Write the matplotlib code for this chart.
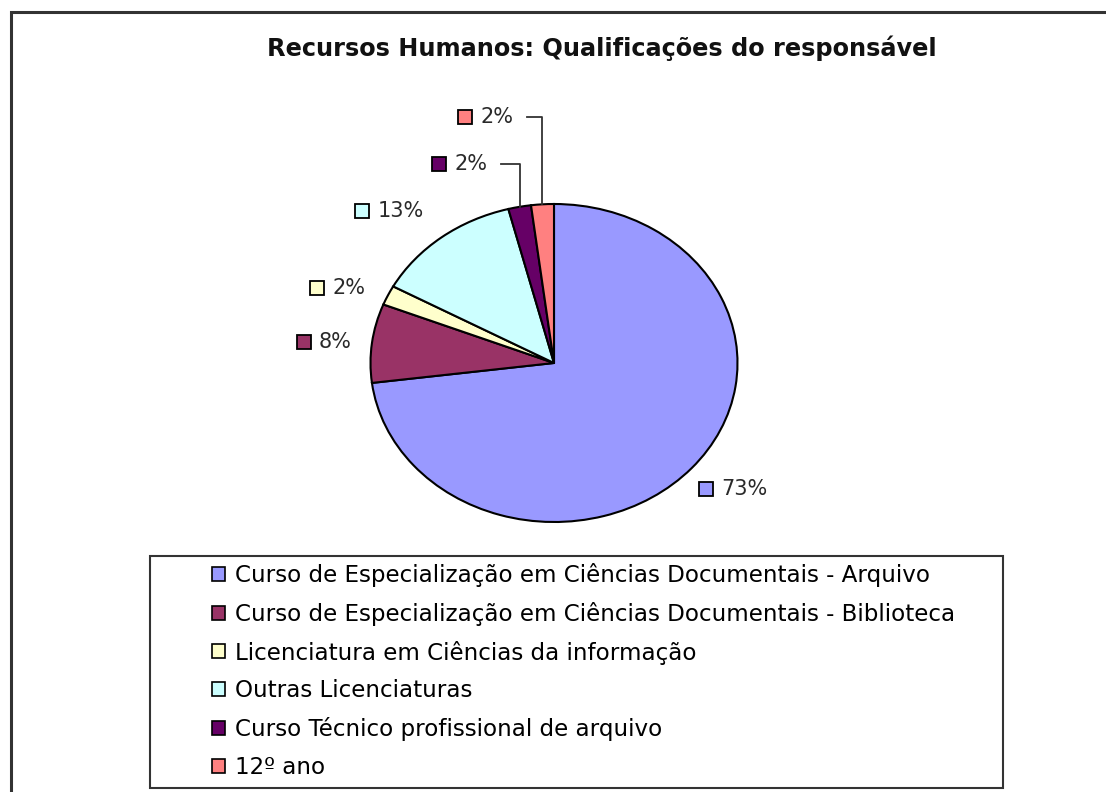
import numpy as np
import matplotlib
matplotlib.use("Agg")
import matplotlib.pyplot as plt
from matplotlib.patches import Rectangle, Patch

plt.rcParams['font.family'] = ['DejaVu Sans']

# data
categories = ["Curso de Especialização em Ciências Documentais - Arquivo",
              "Curso de Especialização em Ciências Documentais - Biblioteca",
              "Licenciatura em Ciências da informação",
              "Outras Licenciaturas",
              "Curso Técnico profissional de arquivo",
              "12º ano"]
percent = [73, 8, 2, 13, 2, 2]
colors = ["#9999FF", "#993366", "#FFFFCC", "#CCFFFF", "#660066", "#FF8080"]

# label anchor positions (square key centre) in pie units, and which ones get a leader line
label_pos = [(0.828, -0.792), (-1.365, 0.135), (-1.289, 0.469),
             (-1.044, 0.953), (-0.624, 1.252), (-0.485, 1.550)]
leader = [False, False, False, False, True, True]

W, H = 1106, 792
fig = plt.figure(figsize=(W / 100, H / 100), dpi=100)

# outer chart frame
fig.add_artist(Rectangle((11 / W, -0.1), 1.2, 1 - 12 / H + 0.1, transform=fig.transFigure,
                         fill=False, edgecolor="#333333", linewidth=2.2))

fig.text(602 / W, 1 - 48 / H, "Recursos Humanos: Qualificações do responsável",
         ha="center", va="center", fontsize=17.3, fontweight="bold", color="#111111")

# pie (elliptical like the original)
cx, cy, rx, ry = 554, 363, 183.5, 159
ax = fig.add_axes([(cx - rx) / W, 1 - (cy + ry) / H, 2 * rx / W, 2 * ry / H])
wedges, _ = ax.pie(percent, colors=colors, startangle=90, counterclock=False,
                   wedgeprops=dict(edgecolor="black", linewidth=1.5))
ax.set_aspect("auto")
ax.set_xlim(-1, 1)
ax.set_ylim(-1, 1)
ax.axis("off")

for w, p, c, (lx, ly), has_line in zip(wedges, percent, colors, label_pos, leader):
    ax.plot(lx, ly, marker="s", markersize=9.4, markerfacecolor=c,
            markeredgecolor="black", markeredgewidth=1.3, clip_on=False)
    ax.annotate(f"{p}%", xy=(lx, ly), xytext=(11, 0), textcoords="offset points",
                va="center", ha="left", fontsize=15, color="#2a2a2a", annotation_clip=False)
    if has_line:
        mid = np.deg2rad((w.theta1 + w.theta2) / 2)
        ex, ey = np.cos(mid), np.sin(mid)
        x0 = lx + 62 / rx
        ax.plot([x0, ex, ex], [ly, ly, ey], color="#333333", linewidth=1.3, clip_on=False)

# legend box
fig.add_artist(Rectangle((150 / W, 1 - 788 / H), 853 / W, 232 / H, transform=fig.transFigure,
                         fill=False, edgecolor="#333333", linewidth=1.5))
handles = [Patch(facecolor=c, edgecolor="black", linewidth=1.2) for c in colors]
fig.legend(handles, categories, loc="upper left", bbox_to_anchor=(212 / W, 1 - 563 / H),
           frameon=False, fontsize=16.6, handlelength=0.56, handleheight=0.56,
           handletextpad=0.42, labelspacing=0.64, borderpad=0, borderaxespad=0)

fig.savefig("out.png", dpi=100)
